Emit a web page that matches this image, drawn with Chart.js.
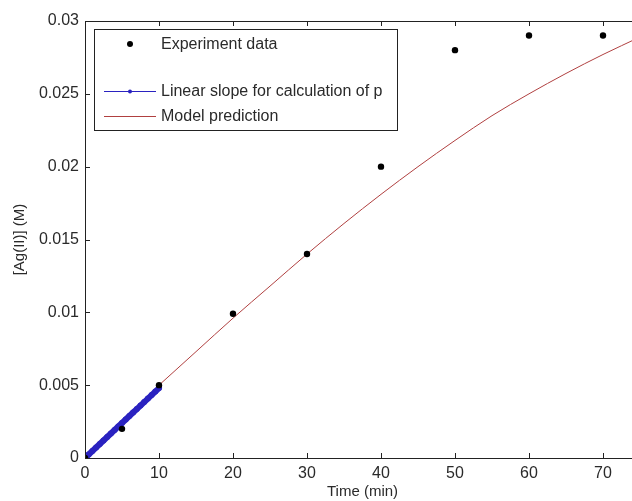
<!DOCTYPE html>
<html>
<head>
<meta charset="utf-8">
<script src="https://cdn.jsdelivr.net/npm/chart.js@4"></script>
<style>
  html, body { margin: 0; padding: 0; background: #fff; overflow: hidden; }
  #wrap { width: 632px; height: 501px; overflow: hidden; }
</style>
</head>
<body>
<div id="wrap"><canvas id="chart" width="660" height="501"></canvas></div>
<script>
// Experiment data (time in min, [Ag(II)] in M)
const expTime = [0, 5, 10, 20, 30, 40, 50, 60, 70];
const expConc = [0, 0.002, 0.005, 0.0099, 0.014, 0.020, 0.028, 0.029, 0.029];

// Linear slope used for calculation of p
const slopeTime = [0, 0.5, 1, 1.5, 2, 2.5, 3, 3.5, 4, 4.5, 5, 5.5, 6, 6.5, 7, 7.5, 8, 8.5, 9, 9.5, 10];
const slopeConc = [0, 0.00024, 0.00048, 0.00072, 0.00096, 0.0012, 0.00144, 0.00168, 0.00192, 0.00216,
  0.0024, 0.00264, 0.00288, 0.00312, 0.00336, 0.0036, 0.00384, 0.00408, 0.00432, 0.00456, 0.0048];

// Model prediction
const modelTime = [10, 15, 20, 25, 30, 35, 40, 45, 50, 55, 60, 65, 70, 75];
const modelConc = [0.0050, 0.0073, 0.0096, 0.0118, 0.0140, 0.0161, 0.0181, 0.0200, 0.0218, 0.0235, 0.0250, 0.0264, 0.0277, 0.0289];

// Tick labels
const xTicks = [0, 10, 20, 30, 40, 50, 60, 70];
const yTicks = [0, 0.005, 0.01, 0.015, 0.02, 0.025, 0.03];
const yTickLabels = ['0', '0.005', '0.01', '0.015', '0.02', '0.025', '0.03'];

const FONT = 'Liberation Sans, Arial, sans-serif';
const TEXT = '#2a2a2a';
const BLUE = '#2a22c0';
const RED = '#b04040';

function pts(xs, ys) {
  return xs.map((x, i) => ({ x, y: ys[i] }));
}

// Matlab style axes box with inward ticks + legend box
const matlabBox = {
  id: 'matlabBox',
  afterDatasetsDraw(chart) {
    const { ctx, chartArea: a, scales: { x, y } } = chart;
    ctx.save();
    ctx.strokeStyle = '#222';
    ctx.lineWidth = 1;
    ctx.strokeRect(Math.round(a.left) + 0.5, Math.round(a.top) + 0.5,
      Math.round(a.right - a.left), Math.round(a.bottom - a.top));
    const tl = 5;
    ctx.beginPath();
    xTicks.forEach(v => {
      const px = Math.round(x.getPixelForValue(v)) + 0.5;
      ctx.moveTo(px, a.bottom); ctx.lineTo(px, a.bottom - tl);
      ctx.moveTo(px, a.top); ctx.lineTo(px, a.top + tl);
    });
    yTicks.forEach(v => {
      const py = Math.round(y.getPixelForValue(v)) + 0.5;
      ctx.moveTo(a.left, py); ctx.lineTo(a.left + tl, py);
      ctx.moveTo(a.right, py); ctx.lineTo(a.right - tl, py);
    });
    ctx.stroke();

    // legend
    const L = 94.5, T = 29.5, W = 303, H = 101;
    ctx.fillStyle = '#fff';
    ctx.fillRect(L, T, W, H);
    ctx.strokeStyle = '#222';
    ctx.strokeRect(L, T, W, H);
    ctx.font = '16px ' + FONT;
    ctx.textBaseline = 'middle';
    ctx.textAlign = 'left';
    const items = chart.data.datasets;
    const rows = [44, 91, 116];
    // experiment
    ctx.beginPath();
    ctx.fillStyle = '#000';
    ctx.arc(130, rows[0], 3, 0, Math.PI * 2);
    ctx.fill();
    // linear slope
    ctx.strokeStyle = BLUE;
    ctx.beginPath(); ctx.moveTo(104, rows[1] + 0.5); ctx.lineTo(156, rows[1] + 0.5); ctx.stroke();
    ctx.fillStyle = BLUE;
    ctx.beginPath(); ctx.arc(130, rows[1] + 0.5, 2, 0, Math.PI * 2); ctx.fill();
    // model
    ctx.strokeStyle = RED;
    ctx.beginPath(); ctx.moveTo(104, rows[2] + 0.5); ctx.lineTo(156, rows[2] + 0.5); ctx.stroke();
    ctx.fillStyle = TEXT;
    items.forEach((d, i) => ctx.fillText(d.label, 161, rows[i] + 1));
    ctx.restore();
  }
};

new Chart(document.getElementById('chart'), {
  type: 'scatter',
  data: {
    datasets: [
      {
        label: 'Experiment data',
        data: pts(expTime, expConc),
        showLine: false,
        pointRadius: 3.2,
        pointBackgroundColor: '#000',
        pointBorderColor: '#000',
        pointBorderWidth: 0
      },
      {
        label: 'Linear slope for calculation of p',
        data: pts(slopeTime, slopeConc),
        showLine: true,
        borderColor: BLUE,
        borderWidth: 6,
        borderCapStyle: 'round',
        pointRadius: 3,
        pointBackgroundColor: BLUE,
        pointBorderColor: BLUE,
        pointBorderWidth: 0
      },
      {
        label: 'Model prediction',
        data: pts(modelTime, modelConc),
        showLine: true,
        borderColor: RED,
        borderWidth: 1,
        cubicInterpolationMode: 'monotone',
        pointRadius: 0
      }
    ]
  },
  options: {
    responsive: false,
    animation: false,
    layout: { padding: { top: 21, right: 20, left: 0, bottom: 0 } },
    plugins: { legend: { display: false }, tooltip: { enabled: false } },
    scales: {
      x: {
        type: 'linear',
        min: 0,
        max: 75,
        afterBuildTicks: s => { s.ticks = xTicks.map(v => ({ value: v })); },
        afterFit: s => { s.height = 43; },
        grid: { display: false, drawTicks: false },
        border: { display: false },
        ticks: { color: TEXT, font: { family: FONT, size: 16 }, padding: 6, maxRotation: 0,
          callback: v => String(v) },
        title: { display: true, text: 'Time (min)', color: TEXT,
          font: { family: FONT, size: 15 }, padding: { top: 0, bottom: 0 } }
      },
      y: {
        type: 'linear',
        min: 0,
        max: 0.03,
        afterBuildTicks: s => { s.ticks = yTicks.map(v => ({ value: v })); },
        afterFit: s => { s.width = 85; },
        grid: { display: false, drawTicks: false },
        border: { display: false },
        ticks: { color: TEXT, font: { family: FONT, size: 16 }, padding: 6,
          callback: (v, i) => yTickLabels[i] },
        title: { display: true, text: '[Ag(II)] (M)', color: TEXT,
          font: { family: FONT, size: 15 }, padding: { top: 11, bottom: 0 } }
      }
    }
  },
  plugins: [matlabBox]
});
</script>
</body>
</html>
